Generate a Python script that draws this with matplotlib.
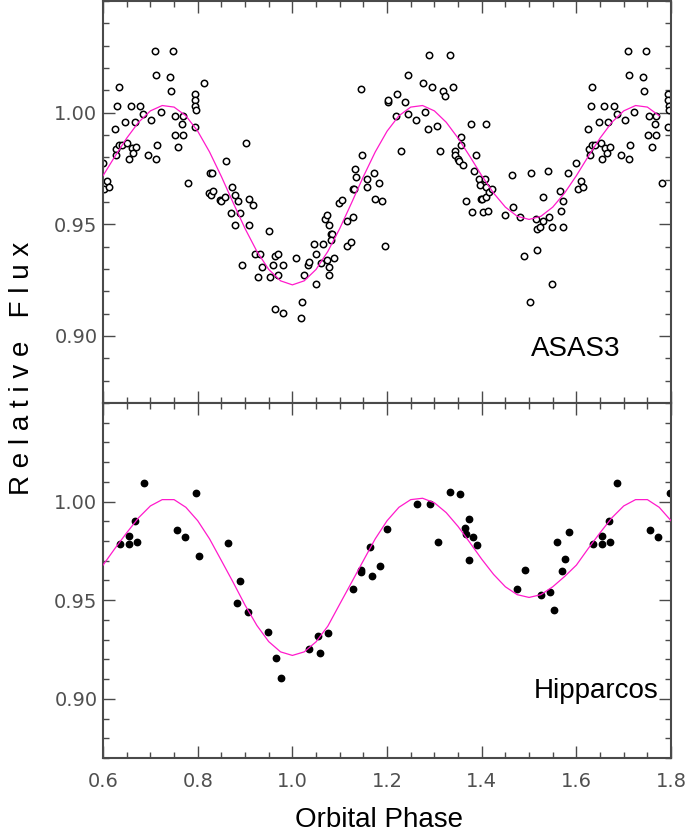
import numpy as np
import matplotlib
matplotlib.use('Agg')
import matplotlib.pyplot as plt
from matplotlib.ticker import MultipleLocator, FixedLocator, FormatStrFormatter

# ASAS3 photometry, phases 0.6-1.6 (points with phase <= 0.8 are repeated one cycle later)
asas_phase = [0.600, 0.603, 0.609, 0.613, 0.625, 0.627, 0.628, 0.630, 0.633, 0.634,
              0.640, 0.647, 0.651, 0.654, 0.658, 0.661, 0.664, 0.667, 0.670, 0.679,
              0.685, 0.694, 0.702, 0.710, 0.711, 0.711, 0.714, 0.722, 0.741, 0.743,
              0.748, 0.753, 0.752, 0.759, 0.766, 0.768, 0.769, 0.780, 0.794, 0.794,
              0.795, 0.796, 0.794, 0.814, 0.824, 0.827, 0.830, 0.828, 0.832, 0.848,
              0.849, 0.858, 0.860, 0.872, 0.878, 0.870, 0.879, 0.885, 0.889, 0.894,
              0.903, 0.909, 0.917, 0.908, 0.920, 0.932, 0.927, 0.936, 0.950, 0.952,
              0.960, 0.963, 0.970, 0.969, 0.980, 0.964, 0.980, 1.007, 1.021, 1.019,
              1.025, 1.034, 1.035, 1.046, 1.049, 1.050, 1.060, 1.064, 1.069, 1.073,
              1.074, 1.078, 1.078, 1.078, 1.081, 1.084, 1.082, 1.087, 1.098, 1.104,
              1.116, 1.116, 1.124, 1.128, 1.127, 1.130, 1.132, 1.134, 1.144, 1.147,
              1.158, 1.158, 1.173, 1.175, 1.184, 1.189, 1.196, 1.201, 1.203, 1.218,
              1.220, 1.230, 1.237, 1.245, 1.245, 1.261, 1.276, 1.281, 1.286, 1.288,
              1.296, 1.306, 1.312, 1.318, 1.323, 1.332, 1.339, 1.344, 1.344, 1.349,
              1.352, 1.356, 1.357, 1.360, 1.366, 1.377, 1.379, 1.384, 1.388, 1.395,
              1.397, 1.399, 1.401, 1.402, 1.406, 1.408, 1.409, 1.410, 1.414, 1.416,
              1.422, 1.449, 1.464, 1.466, 1.480, 1.489, 1.503, 1.504, 1.514, 1.516,
              1.516, 1.523, 1.530, 1.530, 1.539, 1.542, 1.549, 1.549, 1.565, 1.568,
              1.571, 1.572, 1.583]
asas_flux = [0.9774, 0.9659, 0.9692, 0.9667, 0.9928, 0.9837, 0.9810, 1.0030, 1.0114, 0.9856,
             0.9856, 0.9957, 0.9865, 0.9792, 1.0030, 0.9840, 0.9818, 0.9957, 0.9848, 1.0030,
             0.9993, 0.9810, 0.9966, 1.0275, 1.0170, 0.9792, 0.9856, 1.0003, 1.0161, 1.0096,
             1.0275, 0.9984, 0.9901, 0.9846, 0.9948, 0.9901, 0.9984, 0.9685, 1.0085, 1.0058,
             1.0031, 1.0012, 0.9937, 1.0133, 0.9641, 0.9729, 0.9729, 0.9631, 0.9650, 0.9611,
             0.9605, 0.9622, 0.9783, 0.9667, 0.9631, 0.9552, 0.9499, 0.9605, 0.9552, 0.9317,
             0.9865, 0.9613, 0.9587, 0.9499, 0.9368, 0.9368, 0.9266, 0.9309, 0.9472, 0.9266,
             0.9317, 0.9359, 0.9368, 0.9274, 0.9317, 0.9121, 0.9103, 0.9351, 0.9154, 0.9079,
             0.9274, 0.9317, 0.9330, 0.9411, 0.9232, 0.9368, 0.9327, 0.9411, 0.9525, 0.9544,
             0.9340, 0.9499, 0.9309, 0.9275, 0.9456, 0.9456, 0.9428, 0.9351, 0.9596, 0.9611,
             0.9517, 0.9402, 0.9422, 0.9534, 0.9658, 0.9658, 0.9747, 0.9710, 1.0105, 0.9812,
             0.9701, 0.9668, 0.9729, 0.9613, 0.9685, 0.9605, 0.9402, 1.0049, 1.0057, 0.9984,
             1.0085, 0.9828, 1.0049, 1.0170, 0.9994, 0.9966, 1.0133, 1.0003, 0.9928, 1.0256,
             1.0114, 0.9939, 0.9828, 1.0096, 1.0076, 1.0256, 1.0114, 0.9828, 0.9809, 0.9792,
             0.9785, 0.9891, 0.9856, 0.9765, 0.9605, 0.9948, 0.9553, 0.9737, 0.9810, 0.9701,
             0.9676, 0.9613, 0.9613, 0.9553, 0.9701, 0.9948, 0.9667, 0.9622, 0.9561, 0.9645,
             0.9658, 0.9543, 0.9721, 0.9578, 0.9534, 0.9360, 0.9154, 0.9729, 0.9525, 0.9386,
             0.9480, 0.9489, 0.9622, 0.9517, 0.9738, 0.9534, 0.9232, 0.9489, 0.9649, 0.9561,
             0.9605, 0.9489, 0.9729]

# Hipparcos photometry
hip_phase = [0.636, 0.654, 0.654, 0.668, 0.671, 0.686, 0.756, 0.773, 0.797, 0.802,
             0.865, 0.883, 0.889, 0.907, 0.948, 0.965, 0.976, 1.036, 1.054, 1.058,
             1.076, 1.129, 1.146, 1.146, 1.163, 1.168, 1.186, 1.199, 1.263, 1.290,
             1.308, 1.332, 1.355, 1.364, 1.366, 1.373, 1.373, 1.382, 1.390, 1.475,
             1.492, 1.526, 1.544, 1.553, 1.558, 1.570, 1.576, 1.584]
hip_flux = [0.9787, 0.9826, 0.9787, 0.9904, 0.9794, 1.0096, 0.9855, 0.9818, 1.0044, 0.9723,
            0.9792, 0.9488, 0.9598, 0.9439, 0.9339, 0.9208, 0.9103, 0.9253, 0.9317, 0.9230,
            0.9334, 0.9557, 0.9652, 0.9644, 0.9770, 0.9622, 0.9671, 0.9860, 0.9986, 0.9990,
            0.9797, 1.0047, 1.0039, 0.9868, 0.9838, 0.9910, 0.9704, 0.9819, 0.9782, 0.9559,
            0.9652, 0.9525, 0.9540, 0.9449, 0.9796, 0.9650, 0.9708, 0.9846]

# model light curves
model_phase = [0.600, 0.625, 0.650, 0.675, 0.700, 0.725, 0.750, 0.775, 0.800, 0.825,
               0.850, 0.875, 0.900, 0.925, 0.950, 0.975, 1.000, 1.025, 1.050, 1.075,
               1.100, 1.125, 1.150, 1.175, 1.200, 1.225, 1.250, 1.275, 1.300, 1.325,
               1.350, 1.375, 1.400, 1.425, 1.450, 1.475, 1.500, 1.525, 1.550, 1.575,
               1.600, 1.625, 1.650, 1.675, 1.700, 1.725, 1.750, 1.775, 1.800]
asas_model = [0.9718, 0.9804, 0.9886, 0.9957, 1.0008, 1.0032, 1.0025, 0.9986, 0.9917, 0.9824,
              0.9714, 0.9596, 0.9481, 0.9379, 0.9298, 0.9247, 0.9229, 0.9247, 0.9298, 0.9379,
              0.9481, 0.9596, 0.9714, 0.9824, 0.9917, 0.9986, 1.0025, 1.0032, 1.0008, 0.9957,
              0.9886, 0.9804, 0.9718, 0.9640, 0.9577, 0.9536, 0.9522, 0.9536, 0.9577, 0.9640,
              0.9718, 0.9804, 0.9886, 0.9957, 1.0008, 1.0032, 1.0025, 0.9986, None]
hip_model = [0.9678, 0.9762, 0.9842, 0.9918, 0.9978, 1.0010, 1.0010, 0.9971, 0.9903, 0.9811,
             0.9701, 0.9590, 0.9475, 0.9372, 0.9290, 0.9238, 0.9220, 0.9238, 0.9289, 0.9369,
             0.9480, 0.9590, 0.9701, 0.9811, 0.9903, 0.9971, 1.0010, 1.0017, 0.9994, 0.9944,
             0.9874, 0.9792, 0.9708, 0.9631, 0.9568, 0.9528, 0.9514, 0.9528, 0.9568, 0.9620,
             0.9678, 0.9762, 0.9842, 0.9918, 0.9978, 1.0010, 1.0010, 0.9971, 0.9903]

y_major = [0.90, 0.95, 1.00]


def folded(phase, flux):
    # repeat the first part of the cycle so the plot spans 1.2 cycles
    p = np.array(phase)
    f = np.array(flux)
    rep = p + 1.0 <= 1.8
    return np.concatenate([p, p[rep] + 1.0]), np.concatenate([f, f[rep]])


magenta = '#ff1acb'
axcol = '#4a4a4a'

fig = plt.figure(figsize=(6.87, 8.38), dpi=100)
ax1 = fig.add_axes([0.150, 0.5191, 0.8268, 0.4797])
ax2 = fig.add_axes([0.150, 0.0955, 0.8268, 0.4236])

x, y = folded(asas_phase, asas_flux)
ax1.plot(x, y, 'o', ms=4.6, mfc='white', mec='black', mew=1.1, zorder=2)
ax1.plot(model_phase, [v if v is not None else np.nan for v in asas_model],
         color=magenta, lw=0.9, zorder=3, solid_joinstyle='round')

x, y = folded(hip_phase, hip_flux)
ax2.plot(x, y, 'o', ms=4.6, color='black', zorder=2)
ax2.plot(model_phase, hip_model, color=magenta, lw=0.9, zorder=3, solid_joinstyle='round')

for ax in (ax1, ax2):
    ax.set_xlim(0.6, 1.8)
    ax.set_ylim(0.87, 1.05)
    ax.xaxis.set_major_locator(MultipleLocator(0.2))
    ax.xaxis.set_minor_locator(MultipleLocator(0.05))
    ax.yaxis.set_major_locator(FixedLocator(y_major))
    ax.yaxis.set_minor_locator(MultipleLocator(0.01))
    ax.yaxis.set_major_formatter(FormatStrFormatter('%.2f'))
    ax.xaxis.set_major_formatter(FormatStrFormatter('%.1f'))
    ax.tick_params(which='both', direction='in', top=True, right=True,
                   color=axcol, width=1.0)
    ax.tick_params(which='major', length=8.5)
    ax.tick_params(which='minor', length=4.5)
    ax.tick_params(axis='y', pad=4)
    ax.tick_params(axis='x', pad=10)
    for lab in ax.get_xticklabels() + ax.get_yticklabels():
        lab.set_fontfamily('DejaVu Sans')
        lab.set_fontsize(14)
        lab.set_color('#505050')
    for s in ax.spines.values():
        s.set_color(axcol)
        s.set_linewidth(1.5)

ax1.tick_params(labelbottom=False)

ax1.text(1.694, 0.8912, 'ASAS3', ha='right', va='baseline',
         family='Liberation Sans', fontsize=20)
ax2.text(1.773, 0.9005, 'Hipparcos', ha='right', va='baseline',
         family='Liberation Sans', fontsize=20)

fig.text(0.032, 0.561, 'R e l a t i v e   F l u x', rotation=90, ha='center', va='center',
         family='Liberation Sans', fontsize=20)
fig.text(0.5524, 0.0131, 'Orbital Phase', ha='center', va='baseline',
         family='Liberation Sans', fontsize=20)

fig.savefig('out.png', dpi=100)
